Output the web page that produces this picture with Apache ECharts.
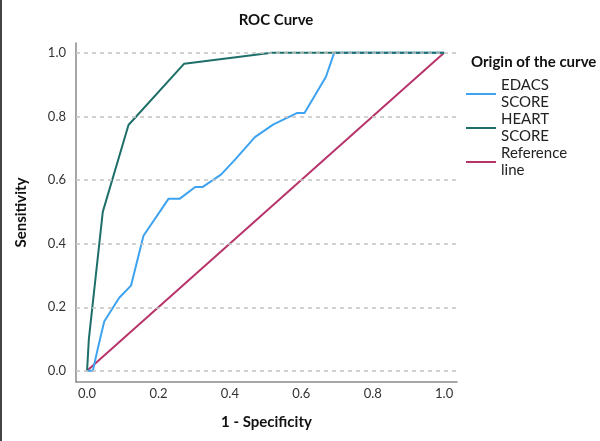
<!DOCTYPE html>
<html>
<head>
<meta charset="utf-8">
<script src="https://cdn.jsdelivr.net/npm/echarts@6/dist/echarts.min.js"></script>
<style>
html, body { margin: 0; padding: 0; background: #fff; }
#main { width: 600px; height: 441px; }
</style>
</head>
<body>
<div id="main"></div>
<script>
var myChart = echarts.init(document.getElementById("main"));

// axis ticks
var xTicks = [0, 0.2, 0.4, 0.6, 0.8, 1.0];
var yTicks = [0, 0.2, 0.4, 0.6, 0.8, 1.0];

// ROC points [1 - specificity, sensitivity]
var edacs = [[0, 0], [0.016, 0], [0.03, 0.07], [0.048, 0.155], [0.09, 0.23], [0.123, 0.268],
	[0.158, 0.425], [0.228, 0.541], [0.259, 0.541], [0.303, 0.578], [0.323, 0.578],
	[0.375, 0.617], [0.415, 0.665], [0.47, 0.735], [0.522, 0.775], [0.589, 0.811],
	[0.609, 0.811], [0.669, 0.925], [0.692, 1], [1, 1]];
var heart = [[0, 0], [0.005, 0.1], [0.044, 0.5], [0.116, 0.773], [0.272, 0.966], [0.517, 1], [1, 1]];
var reference = [[0, 0], [1, 1]];

var names = ['EDACS SCORE', 'HEART SCORE', 'Reference line'];
var colors = ['#3da2ef', '#1e6f69', '#b7346a'];

var font = 'Lato';

option = {
	animation: false,
	textStyle: { fontFamily: font },
	title: [{
		text: 'ROC Curve',
		left: 271,
		top: 8,
		textAlign: 'center',
		textStyle: { fontFamily: font, fontSize: 15, fontWeight: 'bold', color: '#111' }
	}, {
		text: 'Origin of the curve',
		left: 466,
		top: 50,
		textStyle: { fontFamily: font, fontSize: 15, fontWeight: 'bold', color: '#111' }
	}],
	legend: {
		orient: 'vertical',
		left: 461,
		top: 72,
		itemGap: 0,
		itemWidth: 30,
		itemHeight: 2,
		icon: 'rect',
		data: names,
		formatter: function(name) {
			return name.replace(' ', '\n');
		},
		textStyle: { fontFamily: font, fontSize: 15, color: '#222', lineHeight: 17 }
	},
	grid: { left: 76, right: 143, top: 43, bottom: 59 },
	xAxis: {
		type: 'value',
		min: -0.031,
		max: 1.036,
		name: '1 - Specificity',
		nameLocation: 'middle',
		nameGap: 33,
		nameTextStyle: { fontFamily: font, fontSize: 15, fontWeight: 'bold', color: '#111' },
		axisLine: { onZero: false, lineStyle: { color: '#8a8a8a', width: 1.5 } },
		axisTick: { show: false },
		splitLine: { show: false },
		axisLabel: {
			customValues: xTicks,
			margin: 5,
			fontSize: 13,
			color: '#333',
			formatter: function(v) { return v.toFixed(1); }
		}
	},
	yAxis: {
		type: 'value',
		min: -0.035,
		max: 1.031,
		name: 'Sensitivity',
		nameLocation: 'middle',
		nameGap: 47,
		nameTextStyle: { fontFamily: font, fontSize: 15, fontWeight: 'bold', color: '#111' },
		axisLine: { show: true, onZero: false, lineStyle: { color: '#8a8a8a', width: 1.5 } },
		axisTick: { show: false },
		splitLine: { show: false },
		axisLabel: {
			customValues: yTicks,
			margin: 10,
			fontSize: 13,
			color: '#333',
			formatter: function(v) { return v.toFixed(1); }
		}
	},
	graphic: [{
		type: 'rect',
		left: 0,
		top: 0,
		shape: { width: 2, height: 441 },
		style: { fill: '#444' }
	}],
	series: [{
		name: 'grid',
		type: 'line',
		data: [],
		z: 1,
		markLine: {
			silent: true,
			symbol: 'none',
			label: { show: false },
			lineStyle: { color: '#c4c4c4', type: [4, 4], width: 1.5 },
			data: yTicks.map(function(v) { return { yAxis: v }; })
		}
	}, {
		name: names[2],
		type: 'line',
		data: reference,
		showSymbol: false,
		z: 2,
		lineStyle: { color: colors[2], width: 2 },
		itemStyle: { color: colors[2] }
	}, {
		name: names[0],
		type: 'line',
		data: edacs,
		showSymbol: false,
		z: 3,
		lineStyle: { color: colors[0], width: 2 },
		itemStyle: { color: colors[0] }
	}, {
		name: names[1],
		type: 'line',
		data: heart,
		showSymbol: false,
		z: 4,
		lineStyle: { color: colors[1], width: 2 },
		itemStyle: { color: colors[1] }
	}]
};

myChart.setOption(option);
</script>
</body>
</html>
